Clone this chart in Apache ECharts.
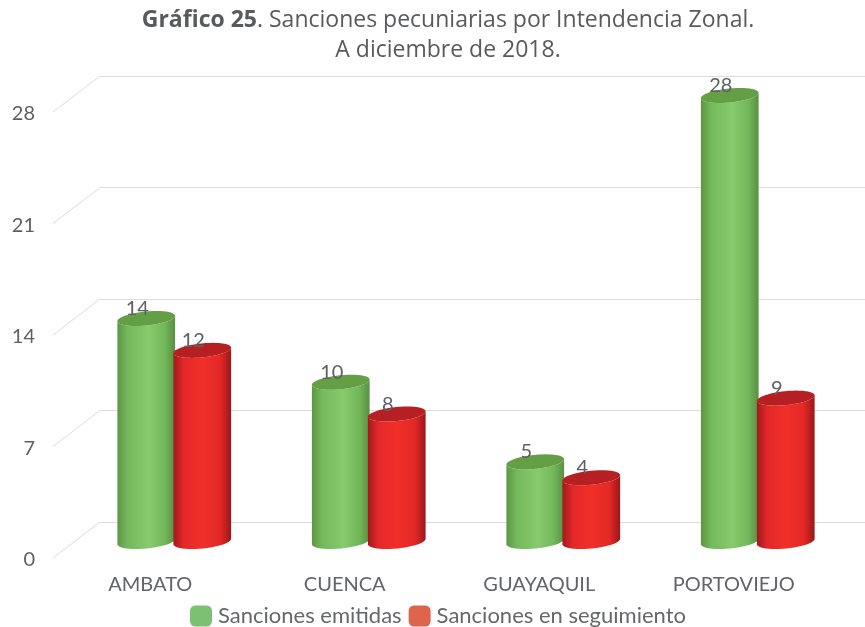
<!DOCTYPE html>
<html>
<head>
<meta charset="utf-8" />
<title>Sanciones pecuniarias</title>
<script src="https://cdn.jsdelivr.net/npm/echarts@6/dist/echarts.min.js"></script>
<style>
  html, body { margin: 0; padding: 0; background: #fff; }
  #chart { width: 865px; height: 627px; }
</style>
</head>
<body>
<div id="chart"></div>
<script>
var categories = ['AMBATO', 'CUENCA', 'GUAYAQUIL', 'PORTOVIEJO'];
var emitidas = [14, 10, 5, 28];
var seguimiento = [12, 8, 4, 9];
var yTicks = [0, 7, 14, 21, 28];
var fontName = 'Lato';
var titleFont = 'Open Sans';

function gradient(stops) {
  return { type: 'linear', x: 0, y: 0, x2: 1, y2: 0, colorStops: stops };
}
var greenBody = gradient([
  { offset: 0, color: '#5d9644' }, { offset: 0.18, color: '#74b95c' },
  { offset: 0.55, color: '#88ca6e' }, { offset: 0.82, color: '#72b75a' },
  { offset: 1, color: '#5a8f42' }
]);
var redBody = gradient([
  { offset: 0, color: '#a01a1c' }, { offset: 0.18, color: '#e4282a' },
  { offset: 0.5, color: '#f02f28' }, { offset: 0.82, color: '#e22826' },
  { offset: 1, color: '#991719' }
]);

// cylinder: body outline + top cap, slightly tilted like the 3d original
function cylinder(shift, body, cap) {
  return function (params, api) {
    var top = api.coord([api.value(0), api.value(1)]);
    var base = api.coord([api.value(0), 0]);
    var rx = 29, ry = 7, tilt = -0.1;
    var cx = top[0] + shift;
    function ell(cy, a) {
      var ex = rx * Math.cos(a), ey = ry * Math.sin(a);
      return [cx + ex * Math.cos(tilt) - ey * Math.sin(tilt), cy + ex * Math.sin(tilt) + ey * Math.cos(tilt)];
    }
    var pts = [], capPts = [], i;
    for (i = 0; i <= 24; i++) pts.push(ell(base[1], Math.PI - Math.PI * i / 24));
    for (i = 0; i <= 24; i++) pts.push(ell(top[1], Math.PI * i / 24));
    for (i = 0; i < 48; i++) capPts.push(ell(top[1], Math.PI * 2 * i / 48));
    return {
      type: 'group',
      children: [
        { type: 'polygon', shape: { points: pts }, style: { fill: body } },
        { type: 'polygon', shape: { points: capPts }, style: { fill: cap } },
        {
          type: 'text',
          style: {
            text: String(api.value(1)), x: cx - 9, y: top[1] - 10,
            fill: '#5f6064', font: '20px ' + fontName,
            align: 'center', verticalAlign: 'middle'
          }
        }
      ]
    };
  };
}

function diagonal(params, api) {
  var p = api.coord([0, api.value(0)]);
  return {
    type: 'line',
    shape: { x1: params.coordSys.x, y1: p[1] - 2, x2: params.coordSys.x + 47, y2: p[1] - 38 },
    style: { stroke: '#dcdcdc', lineWidth: 1 }
  };
}

function yAxis(gridIndex, extra) {
  return Object.assign({
    type: 'value', gridIndex: gridIndex, min: 0, max: 28, interval: 7,
    axisLine: { show: false }, axisTick: { show: false },
    axisLabel: { show: false }, splitLine: { show: false }
  }, extra);
}
function xAxis(gridIndex, extra) {
  return Object.assign({
    type: 'category', gridIndex: gridIndex, data: categories,
    axisLine: { show: false }, axisTick: { show: false },
    axisLabel: { show: false }, splitLine: { show: false }
  }, extra);
}

var chart = echarts.init(document.getElementById('chart'));
chart.setOption({
  animation: false,
  backgroundColor: '#fff',
  textStyle: { fontFamily: fontName },
  title: {
    left: 443, top: 0, textAlign: 'center',
    text: '{b|Gráfico 25}{n|. Sanciones pecuniarias por Intendencia Zonal.}\n{n|A diciembre de 2018.}',
    textStyle: {
      rich: {
        b: { fontFamily: titleFont, fontSize: 23, fontWeight: 'bold', color: '#595a5c', lineHeight: 30 },
        n: { fontFamily: titleFont, fontSize: 23, fontWeight: 'normal', color: '#595a5c', lineHeight: 30 }
      }
    }
  },
  legend: {
    left: 185, top: 600, itemWidth: 22, itemHeight: 21, itemGap: 7, icon: 'roundRect',
    data: [
      { name: 'Sanciones emitidas', itemStyle: { color: '#7cc073' } },
      { name: 'Sanciones en seguimiento', itemStyle: { color: '#df644c' } }
    ],
    textStyle: { fontFamily: fontName, fontSize: 22, color: '#666769', padding: [0, 0, 0, 1] }
  },
  grid: [
    // back wall
    { left: 100, right: 0, top: 76, height: 446 },
    // front edge: tick labels
    { left: 53, width: 778, top: 114, height: 446 },
    // middle: bars
    { left: 77, width: 778, top: 95.5, height: 446 }
  ],
  xAxis: [
    xAxis(0),
    xAxis(1, { axisLabel: { show: true, interval: 0, color: '#636467', fontFamily: fontName, fontSize: 20, margin: 15 } }),
    xAxis(2)
  ],
  yAxis: [
    yAxis(0, { splitLine: { show: true, lineStyle: { color: '#dcdcdc', width: 1 } } }),
    yAxis(1, { axisLabel: { show: true, color: '#5f6064', fontFamily: fontName, fontSize: 20, margin: 18 } }),
    yAxis(2)
  ],
  series: [
    {
      type: 'custom', name: 'ejes', xAxisIndex: 1, yAxisIndex: 1, silent: true,
      renderItem: diagonal, encode: { y: 0 }, data: yTicks.map(function (v) { return [v]; })
    },
    {
      type: 'custom', name: 'Sanciones emitidas', xAxisIndex: 2, yAxisIndex: 2, z: 3, clip: false,
      renderItem: cylinder(-28, greenBody, '#649e45'),
      encode: { x: 0, y: 1 },
      data: emitidas.map(function (v, i) { return [i, v]; })
    },
    {
      type: 'custom', name: 'Sanciones en seguimiento', xAxisIndex: 2, yAxisIndex: 2, z: 4, clip: false,
      renderItem: cylinder(28, redBody, '#b72022'),
      encode: { x: 0, y: 1 },
      data: seguimiento.map(function (v, i) { return [i, v]; })
    }
  ]
});
</script>
</body>
</html>
